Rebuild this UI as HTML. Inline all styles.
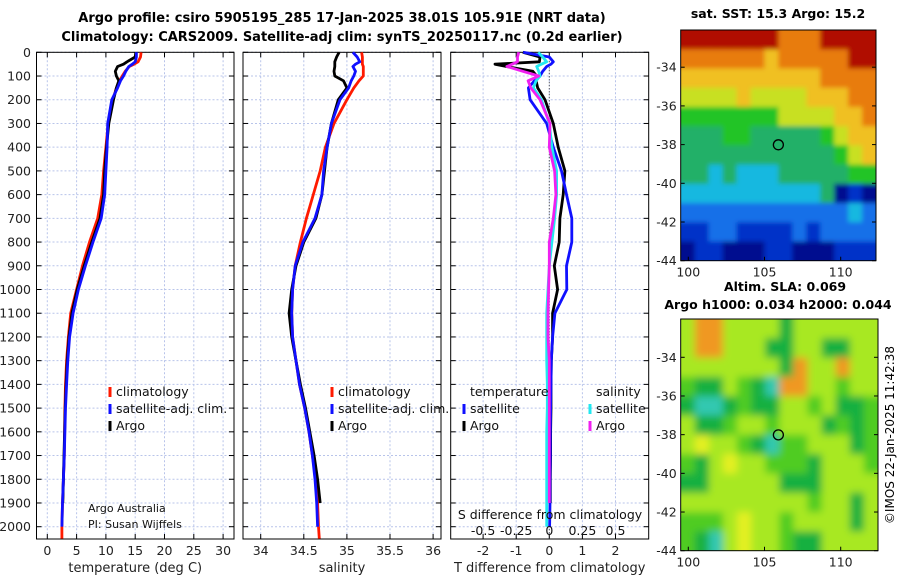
<!DOCTYPE html>
<html><head><meta charset="utf-8"><style>
body{margin:0;background:#fff;}
svg{display:block;font-family:"DejaVu Sans","Liberation Sans",sans-serif;}
</style></head><body>
<svg id="c" width="900" height="580" viewBox="0 0 900 580">
<defs>
<filter id="blurS" x="-10%" y="-10%" width="120%" height="120%"><feGaussianBlur stdDeviation="2.5"/></filter>
<filter id="blurL" x="-10%" y="-10%" width="120%" height="120%"><feGaussianBlur stdDeviation="4"/></filter>
<clipPath id="clipSst"><rect x="680.7" y="30" width="195.3" height="230.7"/></clipPath>
<clipPath id="clipSla"><rect x="680.7" y="319" width="197.3" height="231.7"/></clipPath>
</defs>
<text x="342" y="22" font-size="13" font-weight="bold" text-anchor="middle">Argo profile: csiro 5905195_285 17-Jan-2025 38.01S 105.91E (NRT data)</text>
<text x="342" y="41" font-size="13" font-weight="bold" text-anchor="middle">Climatology: CARS2009. Satellite-adj clim: synTS_20250117.nc (0.2d earlier)</text>
<text x="778" y="18" font-size="12.5" font-weight="bold" text-anchor="middle">sat. SST: 15.3 Argo: 15.2</text>
<text x="785" y="291" font-size="12.5" font-weight="bold" text-anchor="middle">Altim. SLA: 0.069</text>
<text x="778" y="309" font-size="12.5" font-weight="bold" text-anchor="middle">Argo h1000: 0.034 h2000: 0.044</text>
<text transform="translate(894,435) rotate(-90)" font-size="12" text-anchor="middle">©IMOS 22-Jan-2025 11:42:38</text>
</svg>
<script>
// ---- data ----
const depthT = [0,20,40,50,60,80,100,120,150,200,300,400,500,600,700,800,900,1000,1100,1200,1300,1400,1500,1600,1700,1800,1900,2000,2050];
const tempClim = [16.0,15.9,15.5,14.8,14.0,13.3,12.8,12.3,11.8,11.2,10.4,10.0,9.6,9.3,8.6,7.2,6.0,5.0,4.0,3.6,3.3,3.1,3.0,2.95,2.9,2.75,2.6,2.5,2.5];
const depthTs = [0,20,40,50,60,80,100,120,150,200,300,400,500,600,700,800,900,1000,1100,1200,1300,1400,1500,1600,1700,1800,1900,2000];
const tempSat = [15.2,15.2,15.0,14.5,13.9,13.4,13.0,12.5,12.0,11.0,10.3,10.2,10.0,9.8,9.2,7.8,6.5,5.3,4.4,3.8,3.5,3.3,3.1,3.0,2.9,2.75,2.6,2.5];
const depthA = [0,20,40,50,60,80,100,120,150,200,300,400,500,600,700,800,900,1000,1100,1200,1300,1400,1500,1600,1700,1800,1900];
const tempArgo = [15.1,15.0,13.6,13.0,12.0,11.6,11.8,12.2,11.8,11.3,10.5,10.1,9.8,9.6,9.0,7.6,6.3,5.1,4.2,3.7,3.4,3.2,3.05,2.95,2.85,2.75,2.65];
const salClim = [35.17,35.18,35.18,35.18,35.19,35.19,35.19,35.14,35.08,35.0,34.85,34.75,34.69,34.61,34.53,34.46,34.40,34.37,34.36,34.37,34.41,34.45,34.51,34.56,34.6,34.64,34.66,34.67,34.68];
const salSat = [35.07,35.12,35.15,35.1,35.07,35.1,35.08,35.05,35.02,34.92,34.82,34.77,34.73,34.71,34.63,34.49,34.40,34.37,34.36,34.37,34.41,34.45,34.51,34.56,34.6,34.63,34.65,34.66];
const salArgo = [34.91,34.88,34.86,34.86,34.86,34.85,34.86,34.96,35.0,34.90,34.82,34.77,34.74,34.71,34.64,34.50,34.41,34.36,34.33,34.36,34.41,34.46,34.52,34.57,34.62,34.66,34.69];
const dTsat = [-0.79,0.0,0.12,0.05,-0.08,-0.2,-0.28,-0.45,-0.63,-0.58,-0.08,0.12,0.37,0.52,0.68,0.68,0.52,0.53,0.17,0.1,0.06,0.05,0.04,0.03,0.03,0.02,0.02,0.01];
const dTargo = [-0.8,-0.28,-0.3,-1.64,-1.29,-0.5,-0.38,-0.4,-0.35,-0.13,0.12,0.27,0.47,0.42,0.32,0.3,0.15,0.25,0.1,0.1,0.06,0.05,0.05,0.04,0.04,0.03,0.03];
const dSsat = [-0.083,-0.05,-0.02,-0.06,-0.095,-0.08,-0.07,-0.1,-0.12,-0.06,0.0,0.02,0.055,0.055,0.04,0.02,0.0,-0.01,-0.02,-0.02,-0.02,-0.015,-0.015,-0.02,-0.02,-0.02,-0.02,-0.02];
const dSargo = [-0.23,-0.24,-0.24,-0.28,-0.32,-0.2,-0.08,-0.16,-0.14,-0.07,0.005,0.0,0.04,0.05,0.03,0.0,0.0,-0.005,-0.01,-0.01,0.0,0.0,0.0,0.0,0.0,0.0,0.0];
const depthTicks = [0,100,200,300,400,500,600,700,800,900,1000,1100,1200,1300,1400,1500,1600,1700,1800,1900,2000];
const tempTicks = [0,5,10,15,20,25,30];
const salTicks = [34,34.5,35,35.5,36];
const dTTicks = [-2,-1,0,1,2];
const dSTicks = [-0.5,-0.25,0,0.25,0.5];
const latTicks = [-34,-36,-38,-40,-42,-44];
const lonTicks = [100,105,110];
const sstRows = ["99999998889999","88888878888899","77777777778888","66667666677788","55555556666778","44455444445677","44444444444567","44343334444455","33333333334010","22222222222232","11221111212222","01100011000111"];
const slaRows = ["35533331333333","35533311331133","33333331533533","21132105533233","10012113323112","31123323331212","34332102233312","21343322213332","11333331113333","33333333323313","22234332333313","21034332113333"];
const argoLon = 105.91, argoLat = -38.01;

// ---- drawing ----
const svg = document.getElementById('c');
const NS = 'http://www.w3.org/2000/svg';
function mk(tag, attrs, parent){const e=document.createElementNS(NS,tag);for(const k in attrs)e.setAttribute(k,attrs[k]);(parent||svg).appendChild(e);return e;}
const Y = d => 52.3 + d*0.2372;
const top0 = 52.3, bot0 = 539;
const fx1 = t => 47.3 + t*5.86;
const fx2 = s => 260.7 + (s-34)*86.2;
const fx3 = t => 549.3 + t*33.1;
const fxS = s => fx3(s*4);

function panel(name, x0, x1, xt, xfun, xlab, xlabelText){
  const g = mk('g', {});
  
  
  xt.forEach(v=>{const x=xfun(v);mk('line',{x1:x,x2:x,y1:top0,y2:bot0,stroke:'#b8c4ea','stroke-dasharray':'2,2','stroke-width':1},g);
    mk('line',{x1:x,x2:x,y1:bot0,y2:bot0-5,stroke:'#000'},g);mk('line',{x1:x,x2:x,y1:top0,y2:top0+5,stroke:'#000'},g);
    if(xlab){const t=mk('text',{x:x,y:555,'font-size':12.5,'text-anchor':'middle',fill:'#222'},g);t.textContent=xlab(v);}});
  depthTicks.forEach(d=>{const y=Y(d);mk('line',{x1:x0,x2:x1,y1:y,y2:y,stroke:'#b8c4ea','stroke-dasharray':'2,2'},g);
    mk('line',{x1:x0,x2:x0+5,y1:y,y2:y,stroke:'#000'},g);mk('line',{x1:x1,x2:x1-5,y1:y,y2:y,stroke:'#000'},g);});
  mk('rect',{x:x0,y:top0,width:x1-x0,height:bot0-top0,fill:'none',stroke:'#000','stroke-width':1},g);
  const t=mk('text',{x:(x0+x1)/2,y:572,'font-size':13,'text-anchor':'middle',fill:'#222'},g);t.textContent=xlabelText;
  return g;
}
function line(g, xs, ds, xfun, color, name){
  const p = mk('polyline',{points:xs.map((v,i)=>xfun(v).toFixed(1)+','+Y(ds[i]).toFixed(1)).join(' '),fill:'none',stroke:color,'stroke-width':2.8,'stroke-linejoin':'round'},g);
  
  
}
function legend(g, x, y, color, label, name){
  mk('rect',{x:x-1.5,y:y-9,width:3,height:10,fill:color},g);
  const t=mk('text',{x:x+6,y:y,'font-size':12.5,fill:'#111'},g);t.textContent=label;
  
  
}
depthTicks.forEach(d=>{const t=mk('text',{x:31,y:Y(d)+4.5,'font-size':12.5,'text-anchor':'end',fill:'#222'});t.textContent=d;});

const p1 = panel('temperature-panel',36.5,234,tempTicks,fx1,v=>v,'temperature (deg C)');
line(p1,tempClim,depthT,fx1,'#ff1a00','temp-climatology-line');
line(p1,tempArgo,depthA,fx1,'#000','temp-argo-line');
line(p1,tempSat,depthTs,fx1,'#1010ff','temp-satellite-line');
legend(p1,110,396,'#ff1a00','climatology','legend-climatology');
legend(p1,110,413,'#1010ff','satellite-adj. clim.','legend-satellite-adj');
legend(p1,110,430,'#000','Argo','legend-argo');
let t=mk('text',{x:88,y:512,'font-size':11,fill:'#111'},p1);t.textContent='Argo Australia';
t=mk('text',{x:88,y:528,'font-size':11,fill:'#111'},p1);t.textContent='PI: Susan Wijffels';

const p2 = panel('salinity-panel',243,441,salTicks,fx2,v=>v,'salinity');
line(p2,salClim,depthT,fx2,'#ff1a00','sal-climatology-line');
line(p2,salArgo,depthA,fx2,'#000','sal-argo-line');
line(p2,salSat,depthTs,fx2,'#1010ff','sal-satellite-line');
legend(p2,332,396,'#ff1a00','climatology','legend-climatology-s');
legend(p2,332,413,'#1010ff','satellite-adj. clim.','legend-satellite-adj-s');
legend(p2,332,430,'#000','Argo','legend-argo-s');

const p3 = panel('difference-panel',450.7,648.7,dTTicks,fx3,v=>v,'T difference from climatology');
mk('line',{x1:fx3(0),x2:fx3(0),y1:top0,y2:bot0,stroke:'#333','stroke-dasharray':'1,2'},p3);
line(p3,dTargo,depthA,fx3,'#000','dT-argo-line');
line(p3,dTsat,depthTs,fx3,'#1010ff','dT-satellite-line');
line(p3,dSsat,depthTs,fxS,'#22e8f0','dS-satellite-line');
line(p3,dSargo,depthA,fxS,'#f020f0','dS-argo-line');
t=mk('text',{x:470,y:396,'font-size':12.5,fill:'#111'},p3);t.textContent='temperature';
t=mk('text',{x:596,y:396,'font-size':12.5,fill:'#111'},p3);t.textContent='salinity';
legend(p3,464,413,'#1010ff','satellite','legend-t-satellite');
legend(p3,464,430,'#000','Argo','legend-t-argo');
legend(p3,590,413,'#22e8f0','satellite','legend-s-satellite');
legend(p3,590,430,'#f020f0','Argo','legend-s-argo');
t=mk('text',{x:550,y:519,'font-size':12.5,'text-anchor':'middle',fill:'#111'},p3);t.textContent='S difference from climatology';
dSTicks.forEach(v=>{const tt=mk('text',{x:fxS(v),y:535,'font-size':12.5,'text-anchor':'middle',fill:'#111'},p3);tt.textContent=v;});

// maps
const sstPal = ['#00108f','#0030c8','#1470e8','#18b8e0','#22b068','#20c428','#c8e020','#f0c020','#e87c10','#b01000'];
const slaPal = ['#30c8b0','#18b040','#50cc20','#a8e820','#e4f020','#f09820'];
function map(name, rows, pal, x0, x1, y0, y1, latMap, lonMap, clip, filt, bg){
  const g = mk('g', {});
  
  
  const cg = mk('g', {'clip-path':'url(#'+clip+')'}, g);
  mk('rect',{x:x0,y:y0,width:x1-x0,height:y1-y0,fill:bg},cg);
  const fg = mk('g', {filter:'url(#'+filt+')'}, cg);
  const nr = rows.length, nc = rows[0].length;
  const cw=(x1-x0)/nc, ch=(y1-y0)/nr;
  rows.forEach((r,i)=>{for(let j=0;j<nc;j++){
    let rx=x0+j*cw, ry=y0+i*ch, rw=cw+0.6, rh=ch+0.6;
    if(j===0){rx-=10;rw+=10;} if(j===nc-1){rw+=10;} if(i===0){ry-=10;rh+=10;} if(i===nr-1){rh+=10;}
    mk('rect',{x:rx.toFixed(2),y:ry.toFixed(2),width:rw.toFixed(2),height:rh.toFixed(2),fill:pal[+r[j]]},fg);}});
  mk('rect',{x:x0,y:y0,width:x1-x0,height:y1-y0,fill:'none',stroke:'#000'},g);
  latTicks.forEach(l=>{const y=latMap(l);mk('line',{x1:x0,x2:x0+4,y1:y,y2:y,stroke:'#000'},g);mk('line',{x1:x1,x2:x1-4,y1:y,y2:y,stroke:'#000'},g);
    const tt=mk('text',{x:x0-4,y:y+4.5,'font-size':12.5,'text-anchor':'end',fill:'#222'},g);tt.textContent=l;});
  lonTicks.forEach(l=>{const x=lonMap(l);mk('line',{x1:x,x2:x,y1:y1,y2:y1-4,stroke:'#000'},g);
    const tt=mk('text',{x:x,y:y1+16,'font-size':12.5,'text-anchor':'middle',fill:'#222'},g);tt.textContent=l;});
  const c=mk('circle',{cx:lonMap(argoLon),cy:latMap(argoLat),r:5,fill:'none',stroke:'#000','stroke-width':1.3},g);
  
  
}
const lonA = l => 688.3 + (l-100)*15.24;
map('sst-map', sstRows, sstPal, 680.7, 876, 30, 260.7, l=>260.7 - (l+44)*19.35, lonA, 'clipSst', 'blurS', '#30b060');
map('sla-map', slaRows, slaPal, 680.7, 878, 319, 550.7, l=>550.7 - (l+44)*19.34, lonA, 'clipSla', 'blurL', '#a8e820');
</script>
</body></html>
